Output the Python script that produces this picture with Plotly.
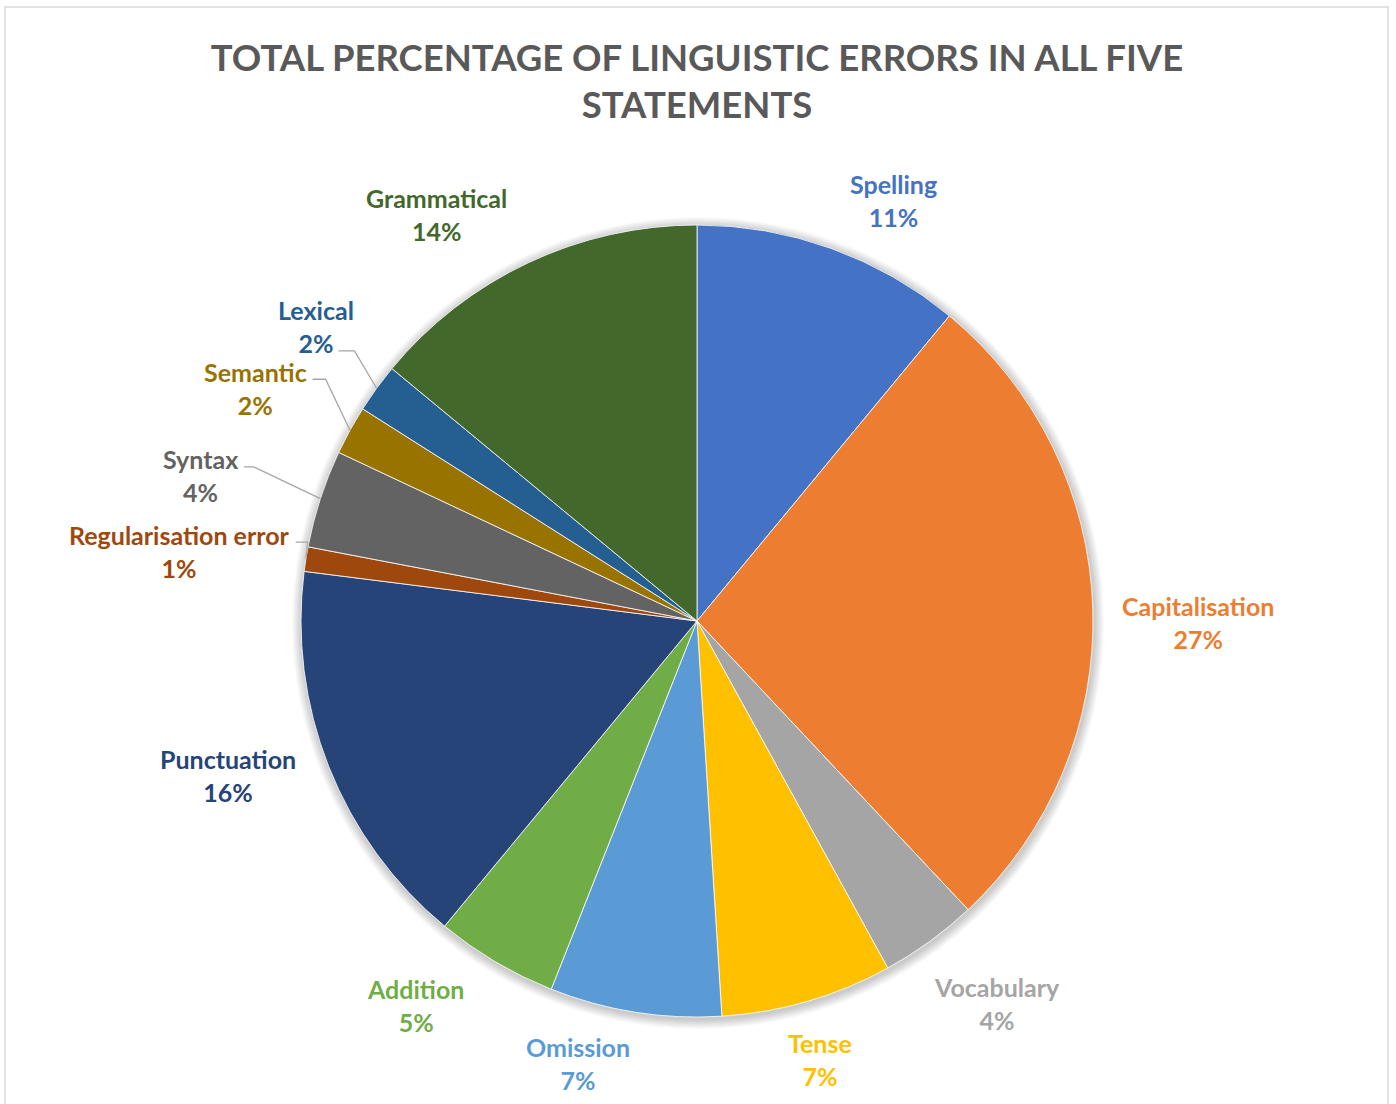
import math
import plotly.graph_objects as go

# ---- data -----------------------------------------------------------------
categories = [
    "Spelling", "Capitalisation", "Vocabulary", "Tense", "Omission", "Addition",
    "Punctuation", "Regularisation error", "Syntax", "Semantic", "Lexical", "Grammatical",
]
percentages = [11, 27, 4, 7, 7, 5, 16, 1, 4, 2, 2, 14]

colors = [
    "#4472C4", "#ED7D31", "#A5A5A5", "#FFC000", "#5B9BD5", "#70AD47",
    "#264478", "#9E480E", "#636363", "#997300", "#255E91", "#43682B",
]

title_text = "TOTAL PERCENTAGE OF LINGUISTIC ERRORS IN ALL FIVE<br>STATEMENTS"

# ---- layout constants (pixels) --------------------------------------------
W, H = 1396, 1104
CX, CY, R = 697, 621, 396          # pie centre and radius
FONT = "Lato"

# label placement: (angular nudge from the slice mid-angle in degrees,
#                   distance of the label centre from the pie centre)
label_place = {
    "Spelling": (5.2, 464),
    "Capitalisation": (2.0, 501),
    "Vocabulary": (-2.1, 486),
    "Tense": (0.5, 456),
    "Omission": (6.0, 458),
    "Addition": (5.6, 476),
    "Punctuation": (3.4, 494),
    "Regularisation error": (-1.3, 522),
    "Syntax": (-1.7, 517),
    "Semantic": (-1.0, 499),
    "Lexical": (1.7, 481),
    "Grammatical": (-7.4, 483),
}

# leader lines: start offset from the label centre and length of the
# horizontal elbow before the line runs to the slice edge
leaders = {
    "Lexical": (22, 24, 16),
    "Semantic": (57, -9, 13),
    "Syntax": (43, -9, 10),
    "Regularisation error": (116, -9, 12),
}


def px(x):
    return x / W


def py(y):
    return 1 - y / H


def polar(angle_deg, dist):
    a = math.radians(angle_deg)
    return CX + dist * math.sin(a), CY - dist * math.cos(a)


total = sum(percentages)
mid_angles = []
acc = 0
for v in percentages:
    mid_angles.append((acc + v / 2) / total * 360)
    acc += v

fig = go.Figure(
    go.Pie(
        labels=categories,
        values=percentages,
        sort=False,
        direction="clockwise",
        rotation=0,
        marker=dict(colors=colors, line=dict(color="white", width=0.8)),
        textinfo="none",
        hoverinfo="label+percent",
        showlegend=False,
        domain=dict(
            x=[px(CX - R), px(CX + R)],
            y=[py(CY + R), py(CY - R)],
        ),
    )
)

shapes = []

# chart frame
shapes.append(dict(
    type="rect", xref="paper", yref="paper",
    x0=px(5), x1=px(1388), y0=-0.05, y1=py(7),
    line=dict(color="#D9D9D9", width=1.5), fillcolor="rgba(0,0,0,0)",
    layer="below",
))

# soft shadow around the pie
for i in range(1, 10):
    rr = R + i * 1.1
    shapes.append(dict(
        type="circle", xref="paper", yref="paper",
        x0=px(CX + 1 - rr), x1=px(CX + 1 + rr),
        y0=py(CY + 2 + rr), y1=py(CY + 2 - rr),
        line=dict(width=0), fillcolor="rgba(0,0,0,0.025)", layer="below",
    ))

annotations = []
for name, v, col, mid in zip(categories, percentages, colors, mid_angles):
    nudge, dist = label_place[name]
    lx, ly = polar(mid + nudge, dist)
    pct = round(100 * v / total)
    annotations.append(dict(
        x=px(lx), y=py(ly), xref="paper", yref="paper",
        text=f"{name}<br>{pct}%", showarrow=False,
        xanchor="center", yanchor="middle", align="center",
        font=dict(family=FONT, size=25, color=col, weight="bold"),
    ))
    if name in leaders:
        sx, sy, elbow = leaders[name]
        x0, y0 = lx + sx, ly + sy
        x1, y1 = x0 + elbow, y0
        x2, y2 = polar(mid, R)
        shapes.append(dict(
            type="path", xref="paper", yref="paper",
            path=f"M {px(x0)},{py(y0)} L {px(x1)},{py(y1)} L {px(x2)},{py(y2)}",
            line=dict(color="#A6A6A6", width=1.3),
        ))

fig.update_layout(
    width=W, height=H,
    margin=dict(l=0, r=0, t=0, b=0),
    paper_bgcolor="white",
    plot_bgcolor="white",
    title=dict(
        text=title_text,
        x=0.4993, xanchor="center",
        y=py(71), yanchor="middle", yref="container",
        font=dict(family=FONT, size=36.5, color="#595959", weight="bold"),
    ),
    shapes=shapes,
    annotations=annotations,
)

fig.write_html("out.html")
